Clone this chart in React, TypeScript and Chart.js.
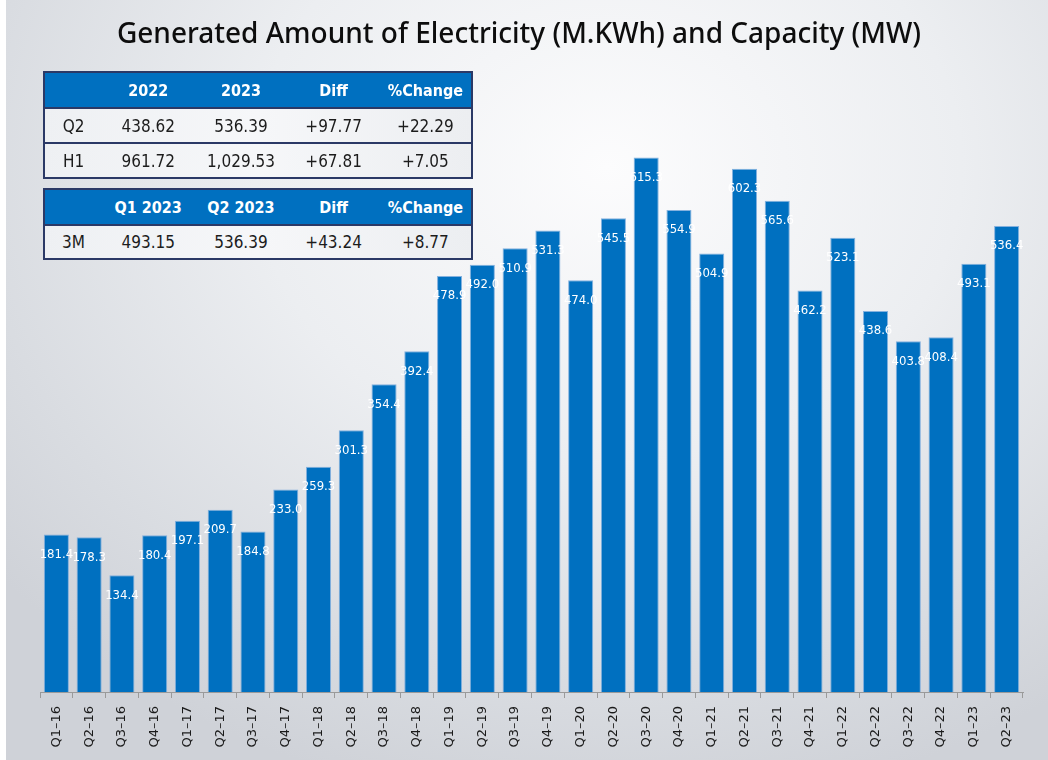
import React, { useEffect, useRef } from "react";
import { Chart, registerables } from "chart.js";

Chart.register(...registerables);

const titleText = "Generated Amount of Electricity (M.KWh) and Capacity (MW)";

const categories = [
  "Q1–16", "Q2–16", "Q3–16", "Q4–16",
  "Q1–17", "Q2–17", "Q3–17", "Q4–17",
  "Q1–18", "Q2–18", "Q3–18", "Q4–18",
  "Q1–19", "Q2–19", "Q3–19", "Q4–19",
  "Q1–20", "Q2–20", "Q3–20", "Q4–20",
  "Q1–21", "Q2–21", "Q3–21", "Q4–21",
  "Q1–22", "Q2–22", "Q3–22", "Q4–22",
  "Q1–23", "Q2–23",
];

const values = [
  181.4, 178.3, 134.4, 180.4,
  197.1, 209.7, 184.8, 233.0,
  259.3, 301.3, 354.4, 392.4,
  478.9, 492.0, 510.9, 531.3,
  474.0, 545.5, 615.3, 554.9,
  504.9, 602.3, 565.6, 462.2,
  523.1, 438.6, 403.8, 408.4,
  493.1, 536.4,
];

const table1Header = ["", "2022", "2023", "Diff", "%Change"];
const table1Rows = [
  ["Q2", "438.62", "536.39", "+97.77", "+22.29"],
  ["H1", "961.72", "1,029.53", "+67.81", "+7.05"],
];
const table2Header = ["", "Q1 2023", "Q2 2023", "Diff", "%Change"];
const table2Rows = [["3M", "493.15", "536.39", "+43.24", "+8.77"]];

const BAR_COLOR = "#0070C0";
const NARROW = "'Liberation Sans Narrow', 'DejaVu Sans Condensed', 'Liberation Sans', sans-serif";

const colWidths = [58, 92, 93, 92, 92];

function SummaryTable(props: { header: string[]; rows: string[][]; top: number; headH: number; rowH: number }) {
  const { header, rows, top, headH, rowH } = props;
  const border = "#2b3966";
  return (
    <table
      style={{
        position: "absolute",
        left: 43,
        top,
        width: 430,
        borderCollapse: "collapse",
        border: `2px solid ${border}`,
        tableLayout: "fixed",
        fontFamily: NARROW,
      }}
    >
      <colgroup>
        {colWidths.map((w, i) => (
          <col key={i} style={{ width: w }} />
        ))}
      </colgroup>
      <thead>
        <tr style={{ height: headH, background: BAR_COLOR }}>
          {header.map((h, i) => (
            <th
              key={i}
              style={{
                color: "#ffffff",
                fontWeight: 700,
                fontSize: 16,
                textAlign: "center",
                padding: 0,
                borderBottom: `2px solid ${border}`,
              }}
            >
              {h}
            </th>
          ))}
        </tr>
      </thead>
      <tbody>
        {rows.map((r, ri) => (
          <tr
            key={ri}
            style={{
              height: rowH,
              background: "linear-gradient(90deg, #eef0f3 0%, #f6f7f9 50%, #eceef1 100%)",
              borderTop: ri > 0 ? `2px solid ${border}` : undefined,
            }}
          >
            {r.map((c, ci) => (
              <td
                key={ci}
                style={{
                  color: "#1c1c1c",
                  fontSize: 17,
                  textAlign: "center",
                  padding: 0,
                }}
              >
                {c}
              </td>
            ))}
          </tr>
        ))}
      </tbody>
    </table>
  );
}

export default function App() {
  const canvasRef = useRef<HTMLCanvasElement | null>(null);

  useEffect(() => {
    document.body.style.margin = "0";
    document.body.style.overflow = "hidden";
    const canvas = canvasRef.current;
    if (!canvas) return;

    const titlePlugin = {
      id: "customTitle",
      afterDraw(chart: any) {
        const ctx = chart.ctx;
        ctx.save();
        ctx.font = "500 28px 'Noto Sans', 'Open Sans', sans-serif";
        ctx.fillStyle = "#0d0d0d";
        ctx.textAlign = "center";
        ctx.textBaseline = "middle";
        ctx.fillText(titleText, 519, 35);
        ctx.restore();
      },
    };

    const valueLabelPlugin = {
      id: "valueLabels",
      afterDatasetsDraw(chart: any) {
        const ctx = chart.ctx;
        const meta = chart.getDatasetMeta(0);
        ctx.save();
        ctx.font = `13px ${NARROW}`;
        ctx.fillStyle = "#ffffff";
        ctx.textAlign = "center";
        ctx.textBaseline = "middle";
        meta.data.forEach((bar: any, i: number) => {
          ctx.fillText(values[i].toFixed(1), bar.x, bar.y + 20);
        });
        ctx.restore();
      },
    };

    const chart = new Chart(canvas, {
      type: "bar",
      data: {
        labels: categories,
        datasets: [
          {
            data: values,
            backgroundColor: BAR_COLOR,
            borderColor: "rgba(120,170,220,0.9)",
            borderWidth: 1,
            barPercentage: 0.765,
            categoryPercentage: 1,
          },
        ],
      },
      options: {
        responsive: false,
        animation: false,
        layout: { padding: { left: 40, right: 25, top: 84, bottom: 0 } },
        plugins: {
          legend: { display: false },
          title: { display: false },
          tooltip: { enabled: false },
        },
        scales: {
          y: { display: false, min: 0, max: 700 },
          x: {
            offset: true,
            afterFit(scale: any) {
              scale.height = 68;
            },
            grid: {
              display: true,
              drawOnChartArea: false,
              drawTicks: true,
              tickLength: 6,
              color: "#9a9a9a",
              offset: true,
            },
            border: { display: true, color: "#9a9a9a", width: 1 },
            ticks: {
              minRotation: 90,
              maxRotation: 90,
              autoSkip: false,
              padding: 8,
              color: "#1a1a1a",
              font: { family: "'DejaVu Sans', sans-serif", size: 13 },
            },
          },
        },
      },
      plugins: [titlePlugin, valueLabelPlugin],
    });

    return () => {
      chart.destroy();
    };
  }, []);

  return (
    <div
      style={{
        position: "absolute",
        left: 0,
        top: 0,
        width: 1048,
        height: 760,
        overflow: "hidden",
        background:
          "radial-gradient(ellipse 75% 85% at 58% 22%, #fcfcfd 0%, #eceef1 45%, #d9dce1 80%, #cfd2d8 100%)",
      }}
    >
      <div style={{ position: "absolute", left: 0, top: 0, width: 6, height: 760, background: "#ffffff" }} />
      <canvas ref={canvasRef} width={1048} height={760} style={{ position: "absolute", left: 0, top: 0 }} />
      <SummaryTable header={table1Header} rows={table1Rows} top={71} headH={36} rowH={35} />
      <SummaryTable header={table2Header} rows={table2Rows} top={188} headH={36} rowH={34} />
    </div>
  );
}
